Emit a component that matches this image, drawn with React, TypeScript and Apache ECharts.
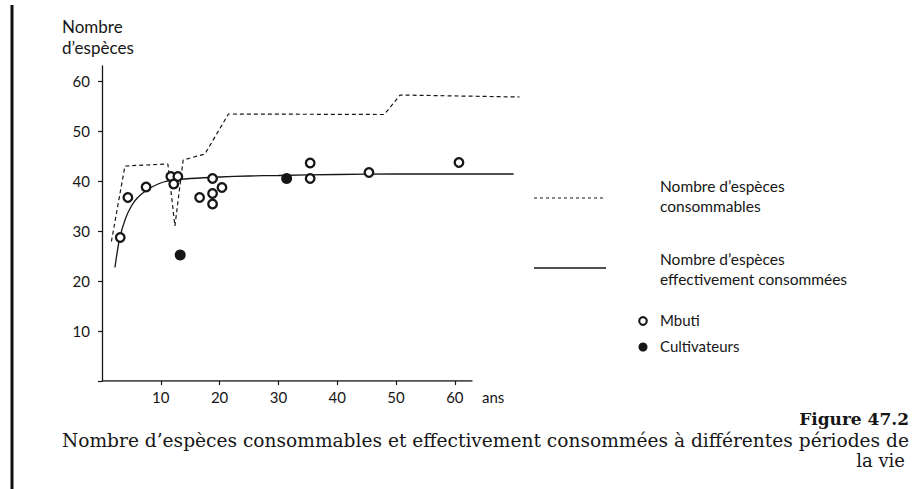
import React, { useEffect, useRef } from "react";
import * as echarts from "echarts";

// Données
const consommables: number[][] = [
  [1.6, 27.9], [3.9, 43.0], [11.2, 43.4], [12.4, 31.0], [13.8, 44.2],
  [17.5, 45.4], [21.5, 53.4], [48.0, 53.3], [50.7, 57.2], [71.0, 56.8],
];
const effectives: number[][] = [
  [2.2, 22.7], [3.0, 28.5], [4.0, 32.5], [5.0, 35.0], [6.0, 36.6], [7.5, 38.1],
  [9.0, 39.1], [10.5, 39.8], [12.0, 40.2], [15.0, 40.5], [20.0, 40.8],
  [25.0, 41.0], [30.0, 41.1], [40.0, 41.3], [50.0, 41.4], [60.0, 41.4], [70.0, 41.4],
];
const mbuti: number[][] = [
  [3.1, 28.7], [4.4, 36.7], [7.5, 38.8], [11.7, 40.9], [12.9, 40.9], [12.2, 39.4],
  [16.6, 36.7], [18.8, 40.5], [18.8, 37.5], [18.8, 35.4], [20.4, 38.7],
  [35.4, 40.5], [35.4, 43.6], [45.4, 41.7], [60.7, 43.7],
];
const cultivateurs: number[][] = [[13.3, 25.2], [31.4, 40.5]];
const xAxisLine: number[][] = [[0, 0], [63, 0]];
const xTicks = [10, 20, 30, 40, 50, 60];

const SANS = "Lato, 'Open Sans', sans-serif";
const SERIF = "'DejaVu Serif', 'Liberation Serif', serif";
const INK = "#161616";

export default function App() {
  const ref = useRef<HTMLDivElement>(null);
  useEffect(() => {
    if (!ref.current) return;
    const chart = echarts.init(ref.current, undefined, { renderer: "svg" });
    chart.setOption({
      animation: false,
      backgroundColor: "#ffffff",
      grid: { left: 102, right: 386.6, top: 66, bottom: 108 },
      xAxis: {
        type: "value",
        min: 0,
        max: 72,
        interval: 10,
        splitLine: { show: false },
        axisLine: { show: false },
        axisTick: { show: true, customValues: xTicks, length: 4, lineStyle: { color: INK, width: 1.2 } },
        axisLabel: { customValues: xTicks, margin: 8, color: INK, fontFamily: SANS, fontSize: 15 },
      },
      yAxis: {
        type: "value",
        min: 0,
        max: 63,
        interval: 10,
        splitLine: { show: false },
        axisLine: { show: true, lineStyle: { color: INK, width: 1.3 } },
        axisTick: { show: true, length: 4, lineStyle: { color: INK, width: 1.2 } },
        axisLabel: {
          margin: 12,
          color: INK,
          fontFamily: SANS,
          fontSize: 15,
          showMaxLabel: false,
          formatter: (v: number) => (v === 0 || v > 60 ? "" : String(v)),
        },
      },
      series: [
        {
          type: "line",
          data: xAxisLine,
          symbol: "none",
          silent: true,
          lineStyle: { color: INK, width: 1.3 },
        },
        {
          name: "Nombre d’espèces consommables",
          type: "line",
          data: consommables,
          symbol: "none",
          lineStyle: { color: INK, width: 1.2, type: [4, 3] },
        },
        {
          name: "Nombre d’espèces effectivement consommées",
          type: "line",
          data: effectives,
          symbol: "none",
          smooth: 0.3,
          lineStyle: { color: INK, width: 1.3 },
        },
        {
          name: "Mbuti",
          type: "scatter",
          data: mbuti,
          symbol: "circle",
          symbolSize: 8.6,
          itemStyle: { color: "#ffffff", borderColor: INK, borderWidth: 2.3, opacity: 1 },
          z: 5,
        },
        {
          name: "Cultivateurs",
          type: "scatter",
          data: cultivateurs,
          symbol: "circle",
          symbolSize: 11,
          itemStyle: { color: INK, opacity: 1 },
          z: 5,
        },
      ],
      graphic: [
        { type: "rect", left: 10.5, top: 5, shape: { width: 3, height: 484 }, style: { fill: "#111" } },
        {
          type: "text", left: 62, top: 16,
          style: { text: "Nombre\nd’espèces", font: `17px ${SANS}`, fill: INK, lineHeight: 21 },
        },
        {
          type: "text", left: 482, top: 389,
          style: { text: "ans", font: `15px ${SANS}`, fill: INK },
        },
        // Légende
        { type: "line", shape: { x1: 534, y1: 198, x2: 606, y2: 198 }, style: { stroke: INK, lineWidth: 1.1, lineDash: [3, 3] } },
        {
          type: "text", left: 660, top: 176,
          style: { text: "Nombre d’espèces\nconsommables", font: `15.5px ${SANS}`, fill: INK, lineHeight: 20 },
        },
        { type: "line", shape: { x1: 534, y1: 268, x2: 606, y2: 268 }, style: { stroke: INK, lineWidth: 1.3 } },
        {
          type: "text", left: 660, top: 249,
          style: { text: "Nombre d’espèces\neffectivement consommées", font: `15.5px ${SANS}`, fill: INK, lineHeight: 20 },
        },
        { type: "circle", shape: { cx: 643, cy: 321, r: 3.8 }, style: { fill: "#fff", stroke: INK, lineWidth: 2.1 } },
        {
          type: "text", left: 660, top: 312,
          style: { text: "Mbuti", font: `15px ${SANS}`, fill: INK },
        },
        { type: "circle", shape: { cx: 643, cy: 347, r: 4.5 }, style: { fill: INK } },
        {
          type: "text", left: 660, top: 338,
          style: { text: "Cultivateurs", font: `15px ${SANS}`, fill: INK },
        },
        // Légende de la figure
        {
          type: "text", right: 3, top: 410,
          style: { text: "Figure 47.2", font: `bold 17px ${SERIF}`, fill: INK },
        },
        {
          type: "text", left: 62, top: 431,
          style: {
            text: "Nombre d’espèces consommables et effectivement consommées à différentes périodes de",
            font: `18.6px ${SERIF}`, fill: INK,
          },
        },
        {
          type: "text", right: 7, top: 451,
          style: { text: "la vie", font: `18px ${SERIF}`, fill: INK },
        },
      ],
    });
    return () => chart.dispose();
  }, []);
  return (
    <div
      ref={ref}
      style={{ position: "absolute", left: 0, top: 0, width: 912, height: 489 }}
    />
  );
}
